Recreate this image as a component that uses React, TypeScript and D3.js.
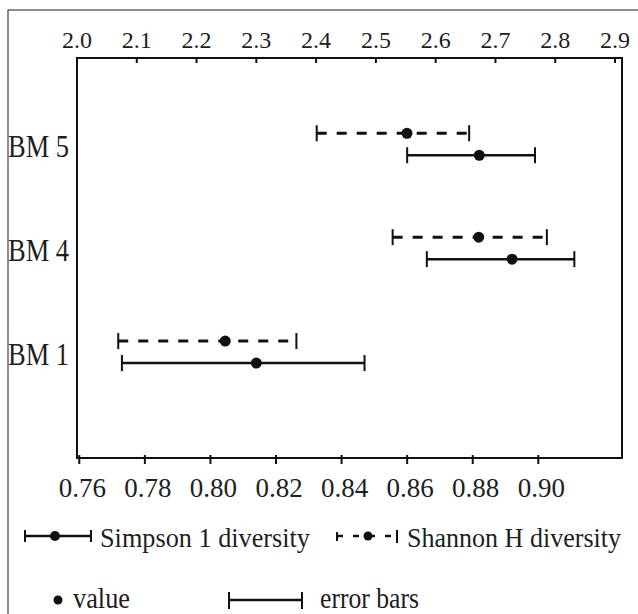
import React from 'react';
import * as d3 from 'd3';

// values
const categories = ['BM 1', 'BM 4', 'BM 5'];
const simpsonValue = [0.814, 0.892, 0.882];
const simpsonLow = [0.773, 0.866, 0.860];
const simpsonHigh = [0.847, 0.911, 0.899];
const shannonValue = [2.248, 2.672, 2.552];
const shannonLow = [2.069, 2.528, 2.401];
const shannonHigh = [2.367, 2.786, 2.656];
const topTicks = [2.0, 2.1, 2.2, 2.3, 2.4, 2.5, 2.6, 2.7, 2.8, 2.9];
const bottomTicks = [0.76, 0.78, 0.80, 0.82, 0.84, 0.86, 0.88, 0.90];
const legendLabels = ['Simpson 1 diversity', 'Shannon H diversity'];
const keyLabels = ['value', 'error bars'];

const W = 638, H = 614;
const left = 77, right = 622, top = 58, bottom = 458;
const serif = { fontFamily: "'Liberation Serif', 'DejaVu Serif', serif" };
const ink = '#111';
const textInk = '#1e1e1e';

function Whisker({ x1, x2, cx, y, dashed, cap = 8, r = 5.5 }: any) {
    return (
        <g>
            <line x1={x1} x2={x2} y1={y} y2={y} stroke={ink}
                strokeWidth={dashed ? 3 : 2.5}
                strokeDasharray={dashed ? '10,10' : undefined} />
            <line x1={x1} x2={x1} y1={y - cap} y2={y + cap} stroke={ink} strokeWidth={2} />
            <line x1={x2} x2={x2} y1={y - cap} y2={y + cap} stroke={ink} strokeWidth={2} />
            <circle cx={cx} cy={y} r={r} fill={ink} />
        </g>
    );
}

export default function App() {
    const xTop = d3.scaleLinear().domain([2.0, 2.9]).range([77, 615]);
    const xBottom = d3.scaleLinear().domain([0.76, 0.90]).range([79.3, 538.3]);
    // rows: BM 1 -> 1, BM 4 -> 2, BM 5 -> 3
    const yRow = d3.scaleLinear().domain([0, 3.83]).range([456, top]);
    const fmtTop = d3.format('.1f');
    const fmtBottom = d3.format('.2f');

    return (
        <svg width={W} height={H} style={{ position: 'absolute', left: 0, top: 0, background: '#fff' }}>
            {/* outer frame, runs off the right and bottom edge */}
            <rect x={8} y={10} width={700} height={700} fill="none" stroke="#444" strokeWidth={1.2} />

            {/* plot box */}
            <rect x={left} y={top} width={right - left} height={bottom - top} fill="none" stroke={ink} strokeWidth={2} />

            {/* top axis (Shannon) */}
            {topTicks.map(t => (
                <g key={'t' + t}>
                    <line x1={xTop(t)} x2={xTop(t)} y1={top} y2={top + 5} stroke={ink} strokeWidth={2} />
                    <text x={xTop(t)} y={48} fontSize={24} textAnchor="middle" fill={textInk} style={serif}>{fmtTop(t)}</text>
                </g>
            ))}

            {/* bottom axis (Simpson) */}
            {bottomTicks.map(t => (
                <g key={'b' + t}>
                    <line x1={xBottom(t)} x2={xBottom(t)} y1={bottom - 3} y2={bottom + 6} stroke={ink} strokeWidth={2} />
                    <text x={xBottom(t) + 3} y={497} fontSize={27} textAnchor="middle" fill={textInk} style={serif}>{fmtBottom(t)}</text>
                </g>
            ))}

            {/* category labels */}
            {categories.map((c, i) => (
                <text key={c} x={8} y={yRow(i + 1) + 13} fontSize={31} textLength={61}
                    lengthAdjust="spacingAndGlyphs" fill={textInk} style={serif}>{c}</text>
            ))}

            {/* Shannon (dashed, upper) */}
            {categories.map((c, i) => (
                <Whisker key={'sh' + c} dashed
                    x1={xTop(shannonLow[i])} x2={xTop(shannonHigh[i])} cx={xTop(shannonValue[i])}
                    y={yRow(i + 1) - 11} />
            ))}

            {/* Simpson (solid, lower) */}
            {categories.map((c, i) => (
                <Whisker key={'si' + c}
                    x1={xBottom(simpsonLow[i])} x2={xBottom(simpsonHigh[i])} cx={xBottom(simpsonValue[i])}
                    y={yRow(i + 1) + 11} />
            ))}

            {/* legend */}
            <Whisker x1={25} x2={91} cx={55} y={536} cap={6} r={5} />
            <text x={100} y={547} fontSize={28} textLength={210} lengthAdjust="spacingAndGlyphs" fill={textInk} style={serif}>{legendLabels[0]}</text>
            <g>
                <line x1={337} x2={397} y1={536} y2={536} stroke={ink} strokeWidth={2.5} strokeDasharray="6,10" />
                <line x1={337} x2={337} y1={532} y2={541} stroke={ink} strokeWidth={2} />
                <line x1={397} x2={397} y1={530} y2={543} stroke={ink} strokeWidth={2} />
                <circle cx={368} cy={536} r={4.5} fill={ink} />
            </g>
            <text x={407} y={547} fontSize={27} textLength={214} lengthAdjust="spacingAndGlyphs" fill={textInk} style={serif}>{legendLabels[1]}</text>

            <circle cx={58} cy={600} r={4.5} fill={ink} />
            <text x={73} y={608} fontSize={29} textLength={57} lengthAdjust="spacingAndGlyphs" fill={textInk} style={serif}>{keyLabels[0]}</text>
            <line x1={229} x2={302} y1={600} y2={600} stroke={ink} strokeWidth={2.5} />
            <line x1={229} x2={229} y1={592} y2={609} stroke={ink} strokeWidth={2} />
            <line x1={302} x2={302} y1={592} y2={609} stroke={ink} strokeWidth={2} />
            <text x={320} y={608} fontSize={29} textLength={99} lengthAdjust="spacingAndGlyphs" fill={textInk} style={serif}>{keyLabels[1]}</text>
        </svg>
    );
}
